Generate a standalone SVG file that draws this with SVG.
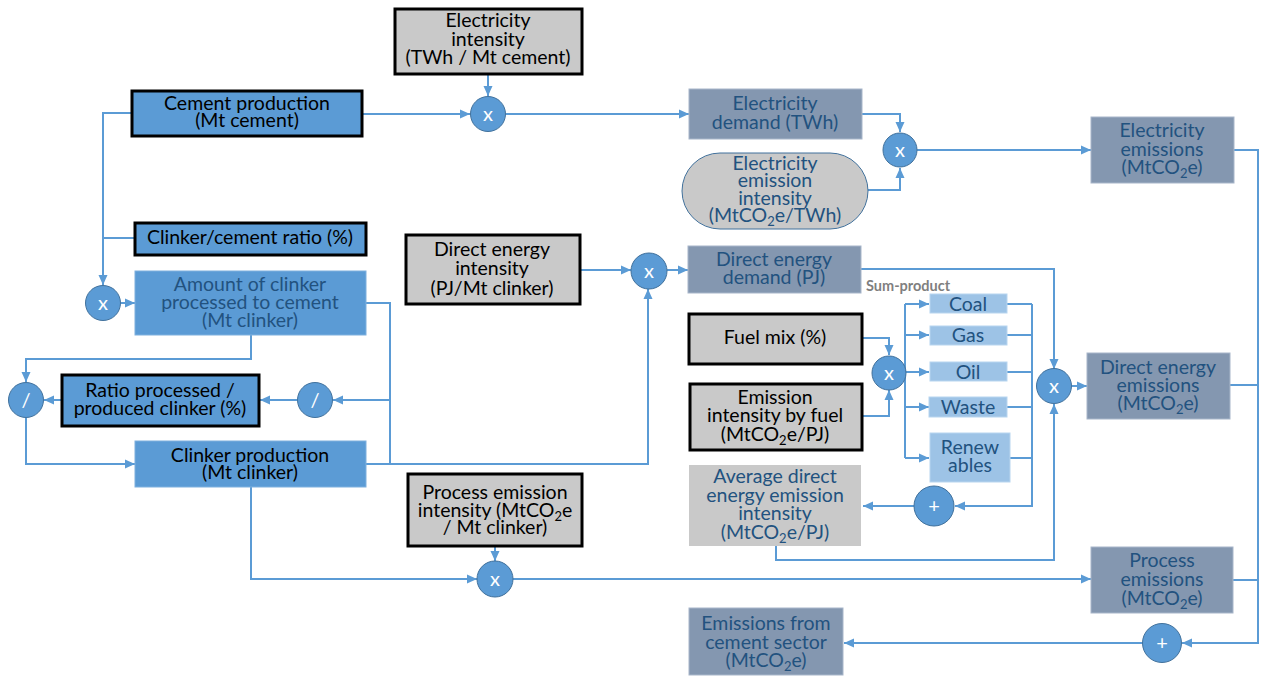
<svg xmlns="http://www.w3.org/2000/svg" width="1266" height="679" viewBox="0 0 1266 679">
<style>
text{font-family:Lato,"Open Sans","Liberation Sans",sans-serif;font-size:19.5px;text-anchor:middle}
.blk{fill:#000}
.dk{fill:#22527f}
.wt{fill:#fff;font-size:20px}
.inp{fill:#c9c9c9;stroke:#000;stroke-width:3}
.bin{fill:#5b9bd5;stroke:#000;stroke-width:3}
.blu{fill:#5b9bd5;stroke:#7fb0de;stroke-width:1}
.sl{fill:#8497b0;stroke:#a8b6ca;stroke-width:1}
.lb{fill:#9dc3e6;stroke:#b8d5ef;stroke-width:1}
.gr{fill:#c9c9c9;stroke:#d6d6d6;stroke-width:1}
.op{fill:#5b9bd5;stroke:#41719c;stroke-width:1}
.c path{fill:none;stroke:#5b9bd5;stroke-width:2}
.c .a{marker-end:url(#ah)}
.sp{font-size:14.5px;font-weight:bold;fill:#7f7f7f;text-anchor:start}
.sub{font-size:13px}
</style>
<defs>
<marker id="ah" markerUnits="userSpaceOnUse" markerWidth="10" markerHeight="10" viewBox="0 0 10 10" refX="10" refY="5" orient="auto">
<path d="M0,0.5 L10,5 L0,9.5 Z" fill="#5b9bd5"/>
</marker>
</defs>

<g id="connectors" class="c">
<path class="a" d="M363,114 H470"/>
<path class="a" d="M488,75 V96"/>
<path class="a" d="M506,114 H689"/>
<path class="a" d="M862,114 H900 V132"/>
<path class="a" d="M868,190 H900 V168"/>
<path class="a" d="M917,150 H1091"/>
<path class="a" d="M1234,150 H1258 V643 H1182"/>
<path d="M1230,385 H1258"/>
<path d="M1233,580 H1258"/>
<path class="a" d="M1143,643 H844"/>
<path class="a" d="M131,113 H103 V285"/>
<path d="M103,238 H134"/>
<path class="a" d="M121,303 H135"/>
<path class="a" d="M251,335 V359 H26 V382"/>
<path class="a" d="M62,400 H44"/>
<path class="a" d="M26,418 V464 H135"/>
<path d="M366,303 H390 V464"/>
<path class="a" d="M390,400 H333"/>
<path class="a" d="M366,464 H648 V289"/>
<path class="a" d="M297,400 H260"/>
<path class="a" d="M251,487 V579 H477"/>
<path class="a" d="M495,546 V561"/>
<path class="a" d="M513,579 H1091"/>
<path class="a" d="M580,270 H631"/>
<path class="a" d="M667,270 H688"/>
<path class="a" d="M861,269 H1054 V369"/>
<path class="a" d="M863,338 H889 V355"/>
<path class="a" d="M863,416 H889 V390"/>
<path d="M906,373 H905 M905,304 V458"/>
<path class="a" d="M905,304 H929"/>
<path class="a" d="M905,335 H929"/>
<path class="a" d="M905,372 H929"/>
<path class="a" d="M905,407 H929"/>
<path class="a" d="M905,458 H929"/>
<path d="M1007,304 H1032 M1007,335 H1032 M1007,372 H1032 M1007,407 H1032 M1010,458 H1032"/>
<path class="a" d="M1032,304 V506 H955"/>
<path class="a" d="M914,506 H863"/>
<path class="a" d="M776,546 V560 H1054 V404"/>
<path class="a" d="M1072,386 H1087"/>
</g>

<g id="elec-intensity"><rect class="inp" x="395" y="9" width="187" height="65"/>
<text class="blk" x="488" y="27">Electricity</text><text class="blk" x="488" y="46">intensity</text><text class="blk" x="488" y="64">(TWh / Mt cement)</text></g>

<g id="cement-production"><rect class="bin" x="132" y="91" width="230" height="45"/>
<text class="blk" x="247" y="110">Cement production</text><text class="blk" x="247" y="127">(Mt cement)</text></g>

<g id="op-x1"><circle class="op" cx="488" cy="114" r="17.5"/><text class="wt" x="488" y="121">x</text></g>

<g id="elec-demand"><rect class="sl" x="689" y="89" width="173" height="50"/>
<text class="dk" x="775" y="110">Electricity</text><text class="dk" x="775" y="129">demand (TWh)</text></g>

<g id="elec-emission-intensity"><rect class="gr" x="682" y="153" width="186" height="76" rx="38" style="stroke:#41719c"/>
<text class="dk" x="775" y="170">Electricity</text><text class="dk" x="775" y="187">emission</text><text class="dk" x="775" y="205">intensity</text><text class="dk" x="775" y="222">(MtCO<tspan class="sub" dy="4">2</tspan><tspan dy="-4">e/TWh)</tspan></text></g>

<g id="op-x2"><circle class="op" cx="900" cy="150" r="17"/><text class="wt" x="900" y="157">x</text></g>

<g id="elec-emissions"><rect class="sl" x="1091" y="117" width="143" height="66"/>
<text class="dk" x="1162" y="137">Electricity</text><text class="dk" x="1162" y="156">emissions</text><text class="dk" x="1162" y="174">(MtCO<tspan class="sub" dy="4">2</tspan><tspan dy="-4">e)</tspan></text></g>

<g id="clinker-cement-ratio"><rect class="bin" x="135" y="223" width="231" height="32"/>
<text class="blk" x="250" y="244">Clinker/cement ratio (%)</text></g>

<g id="op-x3"><circle class="op" cx="103" cy="303" r="17.5"/><text class="wt" x="103" y="310">x</text></g>

<g id="amount-clinker"><rect class="blu" x="135" y="271" width="231" height="64"/>
<text class="dk" x="250" y="291">Amount of clinker</text><text class="dk" x="250" y="309">processed to cement</text><text class="dk" x="250" y="327">(Mt clinker)</text></g>

<g id="op-div-left"><circle class="op" cx="26" cy="400" r="17.5"/><text class="wt" x="26" y="407">/</text></g>

<g id="ratio-processed"><rect class="bin" x="62" y="375" width="197" height="51"/>
<text class="blk" x="160" y="397">Ratio processed /</text><text class="blk" x="160" y="415">produced clinker (%)</text></g>

<g id="op-div-right"><circle class="op" cx="315" cy="400" r="17.5"/><text class="wt" x="315" y="407">/</text></g>

<g id="clinker-production"><rect class="blu" x="135" y="441" width="231" height="46"/>
<text class="blk" x="250" y="462">Clinker production</text><text class="blk" x="250" y="479">(Mt clinker)</text></g>

<g id="direct-energy-intensity"><rect class="inp" x="406" y="235" width="174" height="69"/>
<text class="blk" x="492" y="256">Direct energy</text><text class="blk" x="492" y="275">intensity</text><text class="blk" x="492" y="295">(PJ/Mt clinker)</text></g>

<g id="op-x4"><circle class="op" cx="649" cy="271" r="18"/><text class="wt" x="649" y="278">x</text></g>

<g id="direct-energy-demand"><rect class="sl" x="688" y="246" width="173" height="47"/>
<text class="dk" x="774" y="266">Direct energy</text><text class="dk" x="774" y="284">demand (PJ)</text></g>

<text id="sum-product" class="sp" x="866" y="291">Sum-product</text>

<g id="fuel-mix"><rect class="inp" x="689" y="314" width="173" height="50"/>
<text class="blk" x="775" y="344">Fuel mix (%)</text></g>

<g id="emission-intensity-fuel"><rect class="inp" x="690" y="384" width="172" height="66"/>
<text class="blk" x="775" y="404">Emission</text><text class="blk" x="775" y="422">intensity by fuel</text><text class="blk" x="775" y="441">(MtCO<tspan class="sub" dy="4">2</tspan><tspan dy="-4">e/PJ)</tspan></text></g>

<g id="op-x7"><circle class="op" cx="889" cy="373" r="17"/><text class="wt" x="889" y="380">x</text></g>

<g id="coal"><rect class="lb" x="930" y="294" width="77" height="19"/><text class="dk" x="968" y="311">Coal</text></g>
<g id="gas"><rect class="lb" x="930" y="326" width="77" height="19"/><text class="dk" x="968" y="342">Gas</text></g>
<g id="oil"><rect class="lb" x="930" y="362" width="77" height="19"/><text class="dk" x="968" y="379">Oil</text></g>
<g id="waste"><rect class="lb" x="929" y="397" width="78" height="20"/><text class="dk" x="968" y="414">Waste</text></g>
<g id="renewables"><rect class="lb" x="930" y="433" width="80" height="49"/><text class="dk" x="970" y="454">Renew</text><text class="dk" x="970" y="472">ables</text></g>

<g id="op-plus1"><circle class="op" cx="934" cy="506" r="20"/><text class="wt" x="934" y="513">+</text></g>

<g id="avg-direct-intensity"><rect class="gr" x="689" y="465" width="172" height="81" style="stroke:none"/>
<text class="dk" x="775" y="483">Average direct</text><text class="dk" x="775" y="502">energy emission</text><text class="dk" x="775" y="520">intensity</text><text class="dk" x="775" y="539">(MtCO<tspan class="sub" dy="4">2</tspan><tspan dy="-4">e/PJ)</tspan></text></g>

<g id="op-x6"><circle class="op" cx="1054" cy="386" r="17.5"/><text class="wt" x="1054" y="393">x</text></g>

<g id="direct-energy-emissions"><rect class="sl" x="1087" y="353" width="143" height="66"/>
<text class="dk" x="1158" y="374">Direct energy</text><text class="dk" x="1158" y="392">emissions</text><text class="dk" x="1158" y="410">(MtCO<tspan class="sub" dy="4">2</tspan><tspan dy="-4">e)</tspan></text></g>

<g id="process-emission-intensity"><rect class="inp" x="408" y="474" width="174" height="72"/>
<text class="blk" x="495" y="499">Process emission</text><text class="blk" x="495" y="517">intensity (MtCO<tspan class="sub" dy="4">2</tspan><tspan dy="-4">e</tspan></text><text class="blk" x="495" y="534">/ Mt clinker)</text></g>

<g id="op-x5"><circle class="op" cx="495" cy="579" r="18"/><text class="wt" x="495" y="586">x</text></g>

<g id="process-emissions"><rect class="sl" x="1091" y="547" width="142" height="66"/>
<text class="dk" x="1162" y="567">Process</text><text class="dk" x="1162" y="586">emissions</text><text class="dk" x="1162" y="605">(MtCO<tspan class="sub" dy="4">2</tspan><tspan dy="-4">e)</tspan></text></g>

<g id="op-plus2"><circle class="op" cx="1162" cy="643" r="19.5"/><text class="wt" x="1162" y="650">+</text></g>

<g id="emissions-cement-sector"><rect class="sl" x="689" y="608" width="154" height="67"/>
<text class="dk" x="766" y="630">Emissions from</text><text class="dk" x="766" y="649">cement sector</text><text class="dk" x="766" y="667">(MtCO<tspan class="sub" dy="4">2</tspan><tspan dy="-4">e)</tspan></text></g>
</svg>
